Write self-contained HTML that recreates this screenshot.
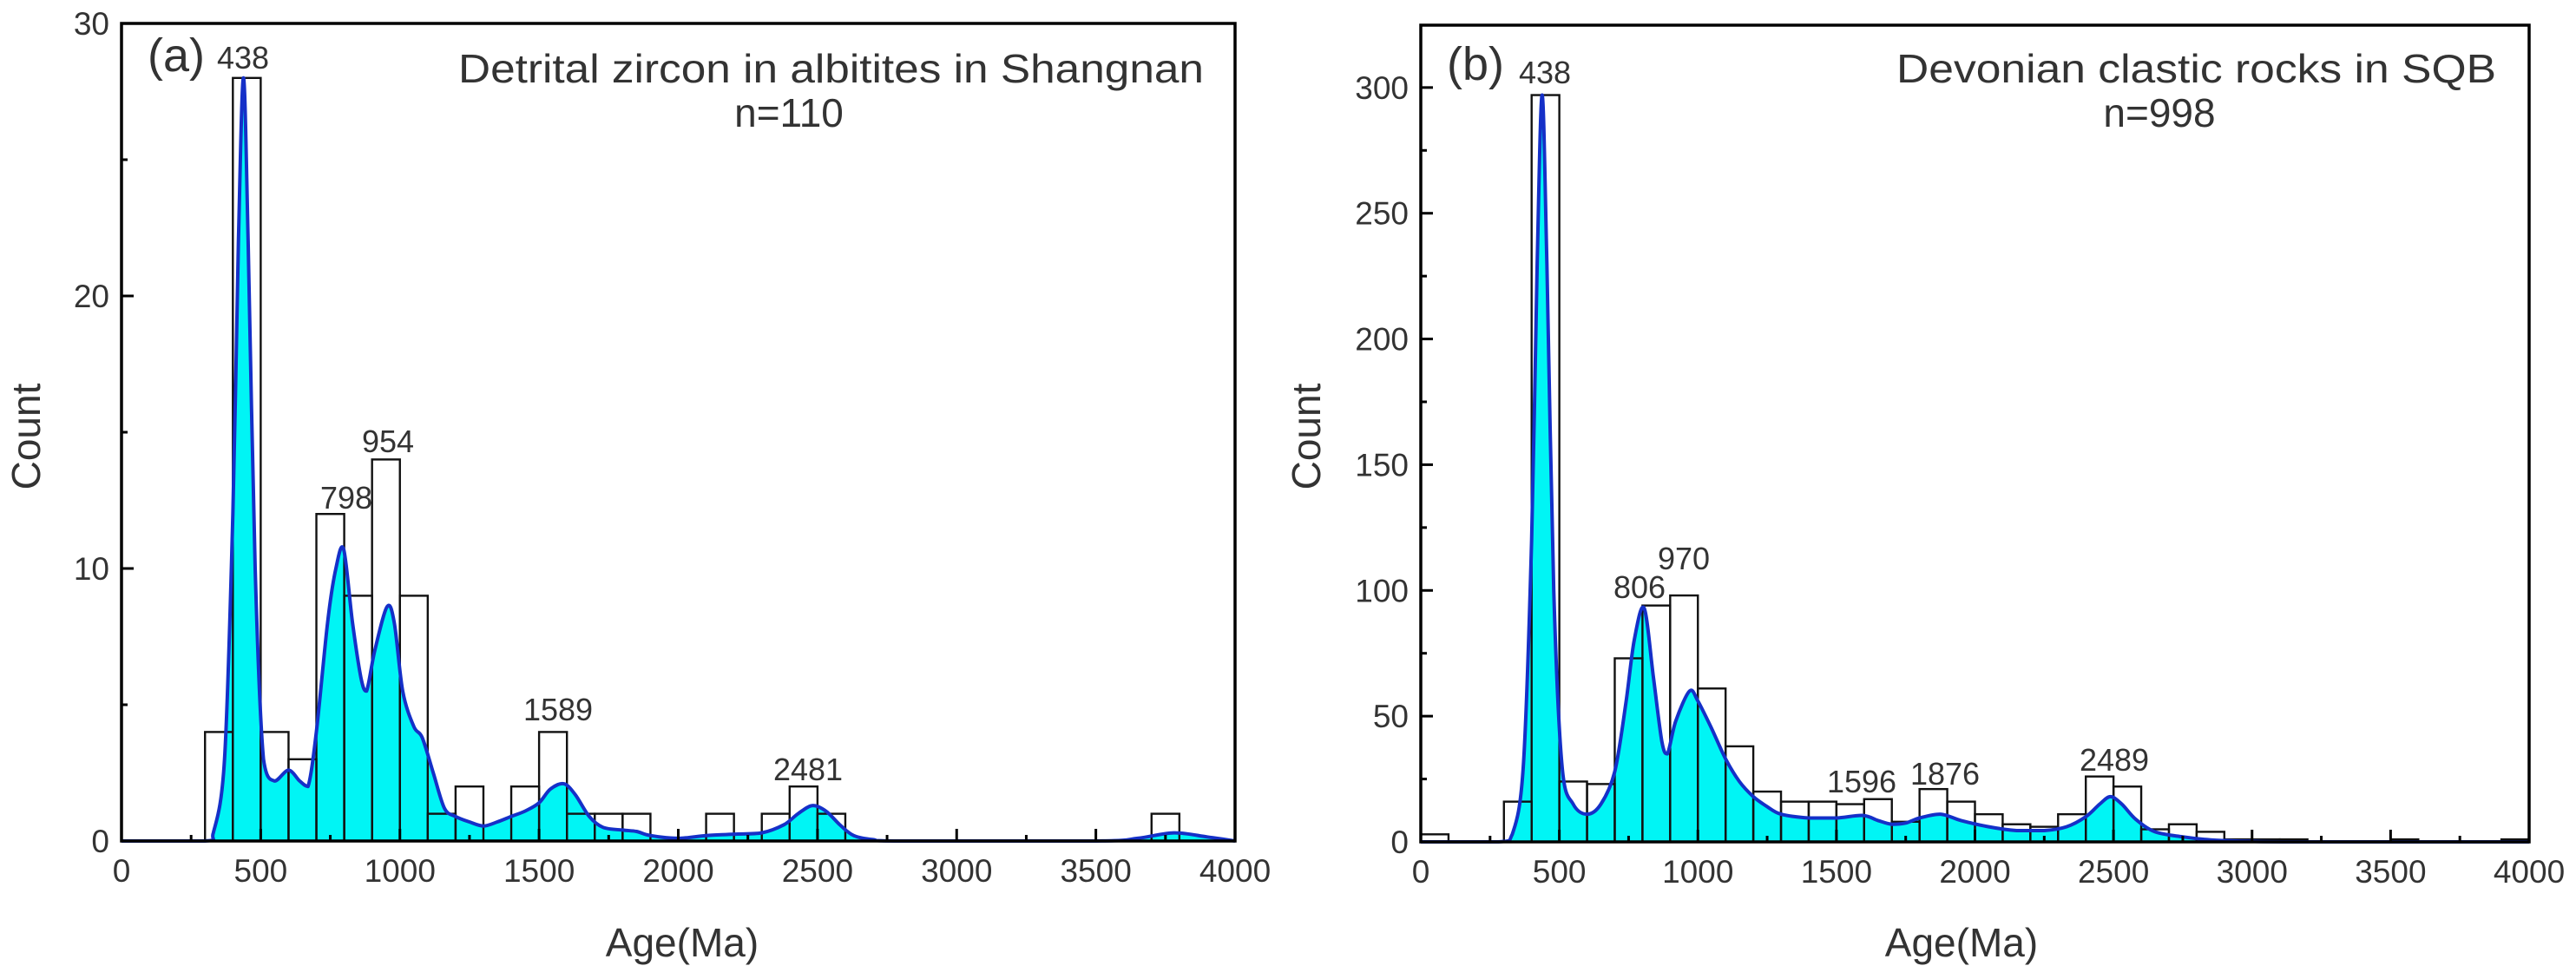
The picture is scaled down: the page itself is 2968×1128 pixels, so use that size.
<!DOCTYPE html>
<html><head><meta charset="utf-8"><style>
html,body{margin:0;padding:0;background:#fff;}
svg{display:block;}
text{font-family:"Liberation Sans Narrow","Liberation Sans",sans-serif;fill:#333;}
</style></head><body>
<svg id="fig" width="2968" height="1128" viewBox="0 0 2968 1128" xmlns="http://www.w3.org/2000/svg"></svg>
<script>
// ---- Panel (a) data ----
const binsA = [[300,4],[400,28],[500,4],[600,3],[700,12],[800,9],[900,14],[1000,9],[1100,1],[1200,2],[1400,2],[1500,4],[1600,1],[1700,1],[1800,1],[2100,1],[2300,1],[2400,2],[2500,1],[3700,1]];
const curveA = [[0,0],[300,0],[330,0.3],[370,3],[400,12],[420,22],[438,28],[455,22],[480,10],[510,3],[550,2.2],[600,2.6],[640,2.2],[670,2],[700,4],[740,8],[770,10],[798,10.7],[830,8],[860,6],[880,5.5],[910,7],[954,8.6],[980,8],[1010,5.5],[1050,4.2],[1080,3.8],[1120,2.5],[1160,1.2],[1200,0.9],[1250,0.7],[1300,0.55],[1350,0.7],[1400,0.9],[1450,1.1],[1500,1.4],[1540,1.9],[1589,2.1],[1630,1.7],[1680,0.9],[1730,0.5],[1800,0.4],[1850,0.35],[1900,0.2],[2000,0.1],[2100,0.2],[2200,0.25],[2300,0.3],[2380,0.6],[2430,1.0],[2481,1.3],[2530,1.1],[2580,0.6],[2630,0.2],[2700,0.05],[2800,0],[3500,0],[3650,0.1],[3780,0.3],[3900,0.15],[4000,0]];
const peaksA = [["798",399,586],["954",447,521],["1589",643,830],["2481",931,899]];
const yTicksA = [0,10,20,30];
// ---- Panel (b) data ----
const binsB = [[0,3],[300,16],[400,297],[500,24],[600,23],[700,73],[800,94],[900,98],[1000,61],[1100,38],[1200,20],[1300,16],[1400,16],[1500,15],[1600,17],[1700,8],[1800,21],[1900,16],[2000,11],[2100,7],[2200,6],[2300,11],[2400,26],[2500,22],[2600,5],[2700,7],[2800,4],[2900,1],[3000,1],[3100,1],[3500,1],[3900,1]];
const curveB = [[0,0],[280,0],[330,3],[370,30],[400,120],[420,230],[438,297],[455,230],[480,100],[510,30],[550,15],[600,11],[650,15],[700,28],[740,55],[770,80],[806,93],[840,65],[870,40],[890,35],[920,48],[970,60],[1000,56],[1050,45],[1100,33],[1150,24],[1200,18],[1250,14],[1300,11],[1400,9.5],[1500,9.5],[1596,10.5],[1650,8.5],[1700,7],[1750,7.5],[1800,9.5],[1876,11],[1950,8.5],[2050,6],[2150,4.5],[2250,4.5],[2330,6],[2400,10],[2450,15],[2489,18],[2530,15],[2580,9],[2650,4],[2750,2],[2850,0.8],[3000,0.2],[3200,0],[4000,0]];
const peaksB = [["806",1889,689],["970",1940,656],["1596",2145,913],["1876",2241,904],["2489",2436,888]];
const yTicksB = [0,50,100,150,200,250,300];
const xTicks = [0,500,1000,1500,2000,2500,3000,3500,4000];

const NS="http://www.w3.org/2000/svg";
const svg=document.getElementById('fig');
function mk(tag,attrs,parent){const e=document.createElementNS(NS,tag);for(const k in attrs)e.setAttribute(k,attrs[k]);(parent||svg).appendChild(e);return e;}
function txt(s,attrs,parent){const e=mk('text',attrs,parent);e.textContent=s;return e;}
function smooth(pts){
  let d='M'+pts[0][0].toFixed(1)+','+pts[0][1].toFixed(1);
  for(let i=0;i<pts.length-1;i++){
    const p0=pts[Math.max(0,i-1)],p1=pts[i],p2=pts[i+1],p3=pts[Math.min(pts.length-1,i+2)];
    const t=0.16;
    let c1x=p1[0]+(p2[0]-p0[0])*t,c1y=p1[1]+(p2[1]-p0[1])*t;
    let c2x=p2[0]-(p3[0]-p1[0])*t,c2y=p2[1]-(p3[1]-p1[1])*t;
    const base=Math.max(p1[1],p2[1]);
    c1y=Math.min(c1y,base+0);c2y=Math.min(c2y,base+0);
    d+=' C'+c1x.toFixed(1)+','+c1y.toFixed(1)+' '+c2x.toFixed(1)+','+c2y.toFixed(1)+' '+p2[0].toFixed(1)+','+p2[1].toFixed(1);
  }
  return d;
}

function panel(cfg){
  const g=mk('g',{});
  
  
  const L=cfg.L,R=cfg.R,T=cfg.T,B=cfg.B;
  const X=v=>L+(v/4000)*(R-L);
  const Y=v=>Math.min(B,B-(v/cfg.ymax)*(B-T));
  const pts=cfg.curve.map(p=>[X(p[0]),Y(p[1])]);
  const cd=smooth(pts);
  const area=mk('path',{d:cd+' L'+pts[pts.length-1][0]+','+B+' L'+pts[0][0]+','+B+' Z',fill:'#00f5f5',stroke:'none'},g);
  
  
  cfg.bins.forEach(b=>{
    const r=mk('rect',{x:X(b[0]),y:Y(b[1]),width:X(b[0]+100)-X(b[0]),height:Y(0)-Y(b[1]),fill:'none',stroke:'#111','stroke-width':2.4},g);
    
    
  });
  const line=mk('path',{d:cd,fill:'none',stroke:'#1530c8','stroke-width':4,'stroke-linejoin':'round'},g);
  
  
  const fr=mk('rect',{x:L,y:T,width:R-L,height:B-T,fill:'none',stroke:'#000','stroke-width':3.5},g);
  
  
  xTicks.forEach(v=>{
    mk('line',{x1:X(v),x2:X(v),y1:B,y2:B-14,stroke:'#000','stroke-width':3},g);
    if(v<4000) mk('line',{x1:X(v+250),x2:X(v+250),y1:B,y2:B-7,stroke:'#000','stroke-width':3},g);
    const t=txt(String(v),{x:X(v),y:B+47,'font-size':37,'text-anchor':'middle'},g);
    
    
  });
  const ys=cfg.yticks;
  const step=ys[1]-ys[0];
  ys.forEach(v=>{
    mk('line',{x1:L,x2:L+14,y1:Y(v),y2:Y(v),stroke:'#000','stroke-width':3},g);
    if(v+step/2<cfg.ymax) mk('line',{x1:L,x2:L+7,y1:Y(v+step/2),y2:Y(v+step/2),stroke:'#000','stroke-width':3},g);
    const t=txt(String(v),{x:L-14,y:Y(v)+13,'font-size':37,'text-anchor':'end'},g);
    
    
  });
  const xt=txt('Age(Ma)',{x:cfg.ageX,y:1102,'font-size':46,'text-anchor':'middle'},g);
  
  
  const yt=txt('Count',{x:0,y:0,'font-size':46,'text-anchor':'middle',transform:'translate('+cfg.countX+',503) rotate(-90)'},g);
  
  
  const pl=txt(cfg.letter,{x:cfg.letterX,y:cfg.letterY,'font-size':54},g);
  
  
  const p0=txt('438',{x:cfg.p438X,y:cfg.p438Y,'font-size':36},g);
  
  
  cfg.peaks.forEach(p=>{
    const t=txt(p[0],{x:p[1],y:p[2],'font-size':36,'text-anchor':'middle'},g);
    
    
  });
  const ti=txt(cfg.title,{x:cfg.titleL,y:95,'font-size':46,textLength:cfg.titleW,lengthAdjust:'spacingAndGlyphs','xml:space':'preserve'},g);
  
  
  const n=txt(cfg.n,{x:cfg.nX,y:146,'font-size':46,'text-anchor':'middle'},g);
  
  
}
panel({name:'panel-a',L:140,R:1423,T:27,B:969,ymax:30,bins:binsA,curve:curveA,peaks:peaksA,yticks:yTicksA,ageX:786,countX:46,letter:'(a)',letterX:170,letterY:82,p438X:250,p438Y:79,title:'Detrital zircon in albitites in Shangnan',titleL:528,titleW:859,n:'n=110',nX:909});
panel({name:'panel-b',L:1637,R:2914,T:29,B:970,ymax:324.8,bins:binsB,curve:curveB,peaks:peaksB,yticks:yTicksB,ageX:2260,countX:1521,letter:'(b)',letterX:1667,letterY:92,p438X:1750,p438Y:96,title:'Devonian clastic rocks in  SQB',titleL:2185,titleW:691,n:'n=998',nX:2488});
</script>
</body></html>
